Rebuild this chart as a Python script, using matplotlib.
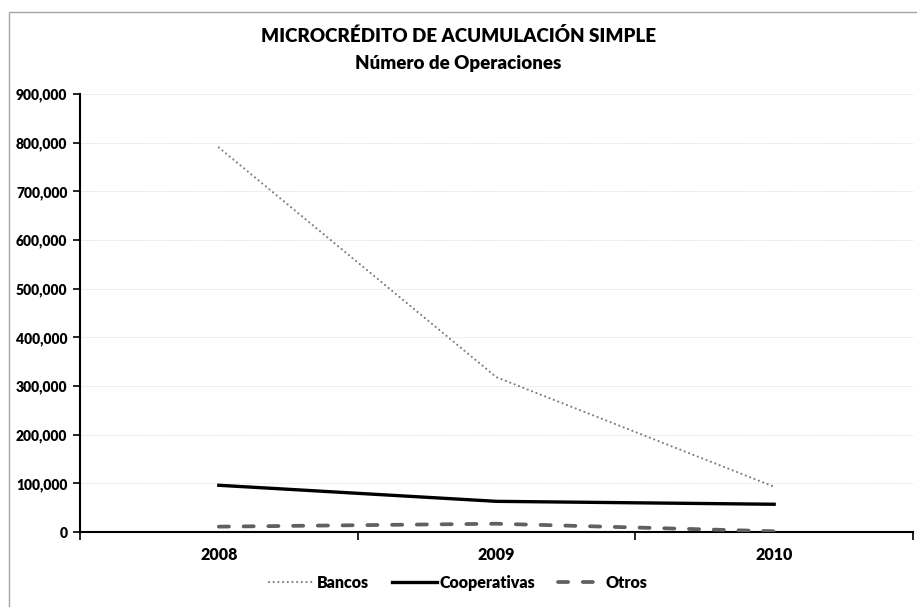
import matplotlib
matplotlib.use("Agg")
import matplotlib.pyplot as plt
from matplotlib.patches import Rectangle
from matplotlib.ticker import FuncFormatter, FixedLocator

# Data
years = ["2008", "2009", "2010"]
bancos = [790000, 318000, 93000]
cooperativas = [96000, 63000, 57000]
otros = [11000, 17000, 1500]
series_names = ["Bancos", "Cooperativas", "Otros"]
title_lines = ["MICROCRÉDITO DE ACUMULACIÓN SIMPLE", "Número de Operaciones"]

plt.rcParams["font.family"] = ["Lato", "DejaVu Sans"]
plt.rcParams["font.weight"] = "heavy"
W = "heavy"

fig = plt.figure(figsize=(9.17, 6.07), dpi=100)
fig.patch.set_facecolor("white")

# chart frame
fig.add_artist(Rectangle((9 / 917, -0.05), 2.0, (607 - 12) / 607 + 0.05,
                         transform=fig.transFigure, fill=False,
                         edgecolor="#a6a6a6", linewidth=1.0))

ax = fig.add_axes([80 / 917, (607 - 532) / 607, (913 - 80) / 917, (532 - 94) / 607])

x = list(range(len(years)))
ax.plot(x, bancos, color="#808080", linewidth=1.6, linestyle=(0, (0.01, 2.1)),
        dash_capstyle="round", solid_capstyle="round", label=series_names[0], zorder=3)
ax.plot(x, cooperativas, color="black", linewidth=2.4, linestyle="-",
        label=series_names[1], zorder=3)
ax.plot(x, otros, color="#606060", linewidth=2.7, linestyle=(0, (2.7, 3.9)),
        dash_capstyle="round", label=series_names[2], zorder=3)

ax.set_ylim(0, 900000)
ax.set_xlim(-0.5, len(years) - 0.5)
ax.yaxis.set_major_locator(FixedLocator(range(0, 900001, 100000)))
ax.yaxis.set_major_formatter(FuncFormatter(lambda v, p: f"{int(v):,}"))
ax.grid(axis="y", color="#d0d0d0", linestyle=(0, (1, 1.5)), linewidth=0.6, zorder=0)

ax.set_xticks([i - 0.5 for i in range(len(years) + 1)])
ax.set_xticklabels([])
ax.set_xticks(x, minor=True)
ax.set_xticklabels(years, minor=True)
ax.tick_params(axis="x", which="major", direction="out", length=6, width=1.2, color="black")
ax.tick_params(axis="x", which="minor", length=0, pad=11, labelsize=11.5)
ax.tick_params(axis="y", direction="out", length=5, width=1.2, labelsize=10, pad=4)
for lab in ax.get_xticklabels(minor=True) + ax.get_yticklabels():
    lab.set_fontweight(W)

for s in ["top", "right"]:
    ax.spines[s].set_visible(False)
ax.spines["left"].set_linewidth(1.5)
ax.spines["bottom"].set_linewidth(1.5)

fig.text(0.5, 1 - 36 / 607, title_lines[0], ha="center", va="center",
         fontsize=13.5, fontweight=W)
fig.text(0.5, 1 - 63 / 607, title_lines[1], ha="center", va="center",
         fontsize=13.5, fontweight=W)

leg = fig.legend(loc="center", bbox_to_anchor=(0.5, 1 - 583 / 607), ncol=3,
                 frameon=False, handlelength=2.8, handletextpad=0.2,
                 columnspacing=1.4, prop={"weight": W, "size": 11.5})

fig.savefig("out.png", dpi=100)
